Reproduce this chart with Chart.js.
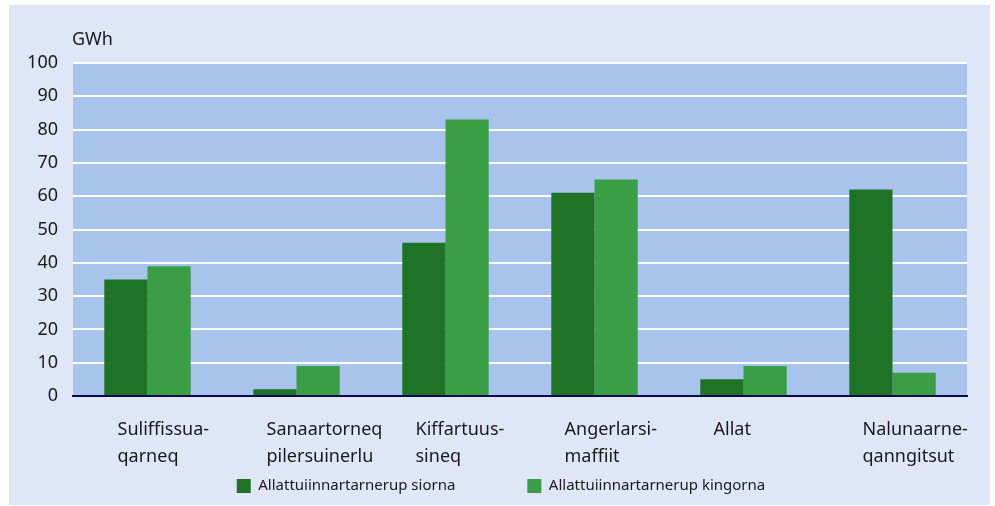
<!doctype html>
<html lang="kl">
<head>
  <meta charset="utf-8">
  <title>GWh</title>
  <style>
    * { margin: 0; padding: 0; }
    body { background: #ffffff; width: 995px; height: 506px; overflow: hidden; }
    .panel {
      position: absolute;
      left: 9px;
      top: 5px;
      width: 981px;
      height: 500px;
      background: #dfe7f7;
    }
  </style>
</head>
<body>
  <div class="panel">
    <canvas id="myChart" width="981" height="500"></canvas>
  </div>

  <script src="https://cdn.jsdelivr.net/npm/chart.js"></script>
  <script>
    // data
    const categories = [
      ['Suliffissua-', 'qarneq'],
      ['Sanaartorneq', 'pilersuinerlu'],
      ['Kiffartuus-', 'sineq'],
      ['Angerlarsi-', 'maffiit'],
      ['Allat'],
      ['Nalunaarne-', 'qanngitsut']
    ];
    const seriesNames = ['Allattuiinnartarnerup siorna', 'Allattuiinnartarnerup kingorna'];
    const before = [35, 2, 46, 61, 5, 62];
    const after = [39, 9, 83, 65, 9, 7];
    const yTicks = [0, 10, 20, 30, 40, 50, 60, 70, 80, 90, 100];
    const unit = 'GWh';

    const font = '"Noto Sans", "DejaVu Sans", sans-serif';
    const legendPad = 72;

    // plot background, unit label, shifted category labels, legend spacing
    const decor = {
      id: 'decor',
      beforeInit(chart) {
        const lg = chart.legend;
        if (lg && !lg._fixed) {
          const fit = lg.fit;
          lg.fit = function () {
            fit.call(this);
            this.height = 29;
          };
          lg._fixed = true;
        }
      },
      afterLayout(chart) {
        // items are drawn at top + padding; move the box so they sit at y=481
        const lg = chart.legend;
        lg.top = 481 - legendPad - 7.5;
        lg.left += 13;
        lg.right += 13;
      },
      beforeDraw(chart) {
        const { ctx, chartArea: a } = chart;
        ctx.save();
        ctx.fillStyle = '#a8c3ec';
        ctx.fillRect(a.left, a.top, a.right - a.left, a.bottom - a.top);
        ctx.restore();
        const items = chart.scales.x.getLabelItems(a);
        if (!items._shifted) {
          items.forEach(it => { it.options.translation[0] -= 30; });
          items._shifted = true;
        }
      },
      afterDraw(chart) {
        const { ctx, chartArea: a } = chart;
        ctx.save();
        ctx.font = '18px ' + font;
        ctx.fillStyle = '#1a1a1a';
        ctx.textBaseline = 'middle';
        ctx.textAlign = 'left';
        ctx.fillText(unit, a.left - 1, 35);
        ctx.restore();
      }
    };

    const data = {
      labels: categories,
      datasets: [{
        label: seriesNames[0],
        data: before,
        backgroundColor: '#1f7326',
        barPercentage: 1,
        categoryPercentage: 0.58
      }, {
        label: seriesNames[1],
        data: after,
        backgroundColor: '#3a9e46',
        barPercentage: 1,
        categoryPercentage: 0.58
      }]
    };

    const config = {
      type: 'bar',
      data,
      plugins: [decor],
      options: {
        responsive: false,
        animation: false,
        layout: {
          padding: { top: 58, right: 23, bottom: 0, left: 0 }
        },
        scales: {
          x: {
            grid: { display: false, drawTicks: false },
            border: { display: true, color: '#0b0b4a', width: 2, z: 1 },
            ticks: {
              align: 'start',
              padding: 20,
              color: '#1a1a1a',
              font: { family: font, size: 18, lineHeight: 1.5 }
            },
            afterFit(scale) {
              scale.height = 80;
              scale.paddingLeft = 0;
              scale.paddingRight = 0;
            }
          },
          y: {
            min: 0,
            max: 100,
            grid: { color: '#ffffff', lineWidth: 2, drawTicks: false },
            border: { display: false },
            ticks: {
              stepSize: 10,
              padding: 15,
              color: '#1a1a1a',
              font: { family: font, size: 18 },
              callback: v => yTicks.includes(v) ? String(v) : ''
            },
            afterFit(scale) { scale.width = 64; }
          }
        },
        plugins: {
          legend: {
            position: 'bottom',
            labels: {
              boxWidth: 14,
              boxHeight: 14,
              padding: legendPad,
              color: '#1a1a1a',
              font: { family: font, size: 15 }
            }
          },
          tooltip: { enabled: false }
        }
      }
    };

    const myChart = new Chart(document.getElementById('myChart'), config);
  </script>
</body>
</html>
